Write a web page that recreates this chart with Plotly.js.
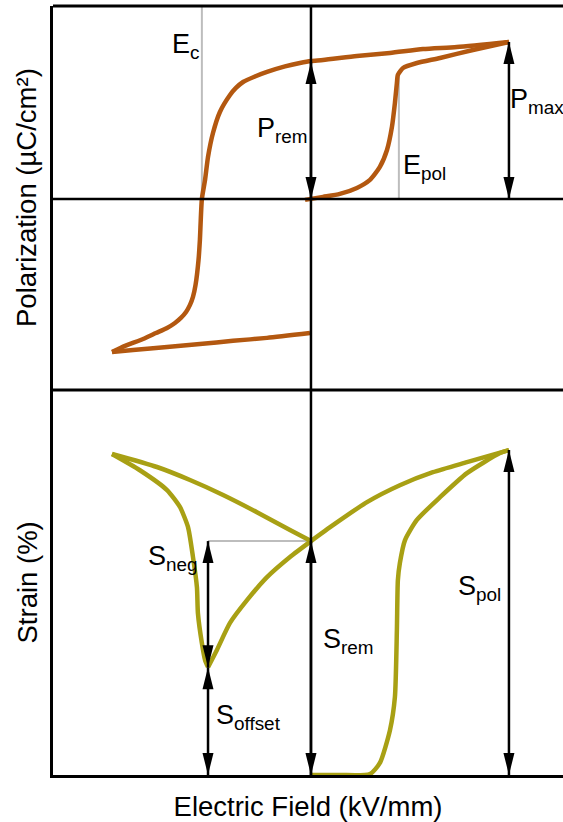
<!DOCTYPE html>
<html>
<head>
<meta charset="utf-8">
<script src="https://cdn.plot.ly/plotly-3.0.1.min.js"></script>
<style>html,body{margin:0;padding:0;background:#fff;}#chart{width:563px;height:822px;}</style>
</head>
<body>
<div id="chart"></div>
<script>
// ---------- Polarization loop (normalised field E, polarization P) ----------
const pVirginE = [-0.03, 0.061, 0.146, 0.232, 0.298, 0.348, 0.384, 0.409, 0.424, 0.434, 0.439, 0.465, 0.535, 0.652, 0.818, 1.0];
const pVirginP = [-0.006, 0.013, 0.032, 0.070, 0.121, 0.204, 0.312, 0.459, 0.611, 0.739, 0.790, 0.834, 0.866, 0.898, 0.949, 1.0];
const pUpperE = [1.0, 0.737, 0.566, 0.399, 0.232, 0.061, 0, -0.056, -0.131, -0.222, -0.283, -0.343, -0.379, -0.409, -0.460, -0.495, -0.520, -0.535, -0.551, -0.561, -0.568, -0.583, -0.596, -0.611, -0.631, -0.657, -0.687, -0.727, -0.783, -0.848, -0.939, -1.005];
const pUpperP = [1.0, 0.968, 0.955, 0.930, 0.911, 0.885, 0.879, 0.866, 0.844, 0.809, 0.780, 0.745, 0.707, 0.662, 0.554, 0.420, 0.268, 0.121, 0, -0.261, -0.389, -0.548, -0.624, -0.675, -0.720, -0.758, -0.790, -0.822, -0.854, -0.892, -0.936, -0.975];
const pLowerE = [-1.005, -0.899, -0.727, -0.561, -0.394, -0.222, -0.005];
const pLowerP = [-0.975, -0.962, -0.943, -0.924, -0.904, -0.885, -0.854];

// ---------- Strain butterfly (normalised field E, strain S) ----------
const sVirginE = [0, 0.146, 0.298, 0.348, 0.399, 0.424, 0.434, 0.439, 0.449, 0.475, 0.535, 0.652, 0.788, 0.955, 1.0];
const sVirginS = [0, 0, 0.003, 0.037, 0.138, 0.240, 0.446, 0.600, 0.652, 0.723, 0.785, 0.855, 0.929, 0.991, 1.0];
const sRightE = [1.0, 0.788, 0.616, 0.449, 0.283, 0.111, 0];
const sRightS = [1.0, 0.963, 0.932, 0.892, 0.840, 0.769, 0.72];
const sDownE = [0, -0.106, -0.222, -0.323, -0.409, -0.475, -0.520];
const sDownS = [0.72, 0.671, 0.609, 0.538, 0.468, 0.385, 0.332];
const sUpE = [-0.520, -0.535, -0.551, -0.571, -0.576, -0.596, -0.621, -0.662, -0.727, -0.864, -1.005];
const sUpS = [0.332, 0.354, 0.406, 0.498, 0.578, 0.671, 0.763, 0.825, 0.877, 0.938, 0.988];
const sLeftE = [-1.005, -0.778, -0.611, -0.444, -0.273, -0.106, 0];
const sLeftS = [0.988, 0.948, 0.908, 0.862, 0.809, 0.754, 0.72];

// ---------- Characteristic values ----------
const E_c = -0.551, E_pol = 0.444, E_max = 1.0;
const P_rem = 0.872, P_max = 1.0, P_epolTop = 0.79;
const S_rem = 0.72, S_min = 0.332, S_pol = 1.0, E_smin = -0.52;

// ---------- Labels ----------
const labelText = ['E<sub>c</sub>', 'P<sub>rem</sub>', 'E<sub>pol</sub>', 'P<sub>max</sub>',
                   'S<sub>neg</sub>', 'S<sub>offset</sub>', 'S<sub>rem</sub>', 'S<sub>pol</sub>'];
const labelE = [-0.712, -0.283, 0.455, 0.995, -0.833, -0.49, 0.051, 0.732];
const labelV = [0.975, 0.439, 0.204, 0.624, 0.668, 0.178, 0.412, 0.575];
const labelAxis = ['y', 'y', 'y', 'y', 'y2', 'y2', 'y2', 'y2'];
const xTitle = 'Electric Field (kV/mm)';
const yTitles = ['Polarization (µC/cm²)', 'Strain (%)'];

const PCOL = '#b35810', SCOL = '#a8a014', GRAY = '#bdbdbd';
const FONT = 'Liberation Sans, Arial, sans-serif';

function tr(x, y, color, yaxis) {
  return {x: x, y: y, xaxis: 'x', yaxis: yaxis, type: 'scatter', mode: 'lines',
          line: {color: color, width: 4.5, shape: 'spline', smoothing: 0.6}, hoverinfo: 'skip', showlegend: false};
}
const data = [
  tr(pVirginE, pVirginP, PCOL, 'y'), tr(pUpperE, pUpperP, PCOL, 'y'), tr(pLowerE, pLowerP, PCOL, 'y'),
  tr(sVirginE, sVirginS, SCOL, 'y2'), tr(sRightE, sRightS, SCOL, 'y2'), tr(sDownE, sDownS, SCOL, 'y2'),
  tr(sUpE, sUpS, SCOL, 'y2'), tr(sLeftE, sLeftS, SCOL, 'y2')
];

const SPLIT = 385 / 769;
const shapes = [];
// gray guide lines
shapes.push({type: 'line', xref: 'x', yref: 'y', x0: E_c, x1: E_c, y0: 0, y1: 1.229, line: {color: GRAY, width: 2}, layer: 'below'});
shapes.push({type: 'line', xref: 'x', yref: 'y', x0: E_pol, x1: E_pol, y0: 0, y1: P_epolTop, line: {color: GRAY, width: 2}, layer: 'below'});
shapes.push({type: 'line', xref: 'x', yref: 'y2', x0: E_smin, x1: 0, y0: S_rem, y1: S_rem, line: {color: GRAY, width: 2}, layer: 'below'});
// frame and axes
shapes.push({type: 'line', xref: 'paper', yref: 'paper', x0: 0, x1: 1, y0: 1, y1: 1, line: {color: '#000', width: 3}});
shapes.push({type: 'line', xref: 'paper', yref: 'paper', x0: 0, x1: 1, y0: SPLIT, y1: SPLIT, line: {color: '#000', width: 3}});
shapes.push({type: 'line', xref: 'x', yref: 'paper', x0: 0, x1: 0, y0: 0, y1: 1, line: {color: '#000', width: 2.5}});
shapes.push({type: 'line', xref: 'paper', yref: 'y', x0: 0, x1: 1, y0: 0, y1: 0, line: {color: '#000', width: 2.5}});

// double-headed arrows
function arrow(E, v0, v1, yref) {
  shapes.push({type: 'line', xref: 'x', yref: yref, x0: E, x1: E, y0: v0, y1: v1, line: {color: '#000', width: 2.5}});
  shapes.push({type: 'path', xref: 'x', yref: yref, xsizemode: 'pixel', ysizemode: 'pixel', xanchor: E, yanchor: v0,
               path: 'M0,0L-5.5,22L5.5,22Z', fillcolor: '#000', line: {width: 0}});
  shapes.push({type: 'path', xref: 'x', yref: yref, xsizemode: 'pixel', ysizemode: 'pixel', xanchor: E, yanchor: v1,
               path: 'M0,0L-5.5,-22L5.5,-22Z', fillcolor: '#000', line: {width: 0}});
}
arrow(0, 0, P_rem, 'y');
arrow(E_max, 0, P_max, 'y');
arrow(E_smin, S_min, S_rem, 'y2');
arrow(E_smin, 0, S_min, 'y2');
arrow(0, 0, S_rem, 'y2');
arrow(E_max, 0, S_pol, 'y2');

const annotations = labelText.map((t, i) => ({
  text: t, x: labelE[i], y: labelV[i], xref: 'x', yref: labelAxis[i], xanchor: 'left', yanchor: 'middle',
  showarrow: false, font: {family: FONT, size: 27, color: '#000'}
}));
// y-axis titles (rotated), centred on each panel
[[yTitles[0], (SPLIT + 1) / 2], [yTitles[1], SPLIT / 2]].forEach(([t, yc]) => {
  annotations.push({text: t, xref: 'paper', yref: 'paper', x: 0, y: yc, xanchor: 'center', yanchor: 'middle',
                    xshift: -26, textangle: -90, showarrow: false, font: {family: FONT, size: 27.5, color: '#000'}});
});

const layout = {
  width: 563, height: 822,
  margin: {l: 53, r: 0, t: 6, b: 47},
  paper_bgcolor: '#fff', plot_bgcolor: '#fff',
  font: {family: FONT, size: 27, color: '#000'},
  showlegend: false,
  xaxis: {domain: [0, 1], anchor: 'y2', range: [-1.303, 1.273], showline: true, linecolor: '#000', linewidth: 3,
          showgrid: false, zeroline: false, showticklabels: false, ticks: '',
          title: {text: xTitle, font: {family: FONT, size: 27.5}}},
  yaxis: {domain: [SPLIT, 1], anchor: 'x', range: [-1.217, 1.229], showline: true, linecolor: '#000', linewidth: 3,
          showgrid: false, zeroline: false, showticklabels: false, ticks: ''},
  yaxis2: {domain: [0, SPLIT], anchor: 'x', range: [0, 1.185], showline: true, linecolor: '#000', linewidth: 3,
           showgrid: false, zeroline: false, showticklabels: false, ticks: ''},
  shapes: shapes,
  annotations: annotations
};

Plotly.newPlot('chart', data, layout, {staticPlot: true, displayModeBar: false});
</script>
</body>
</html>
